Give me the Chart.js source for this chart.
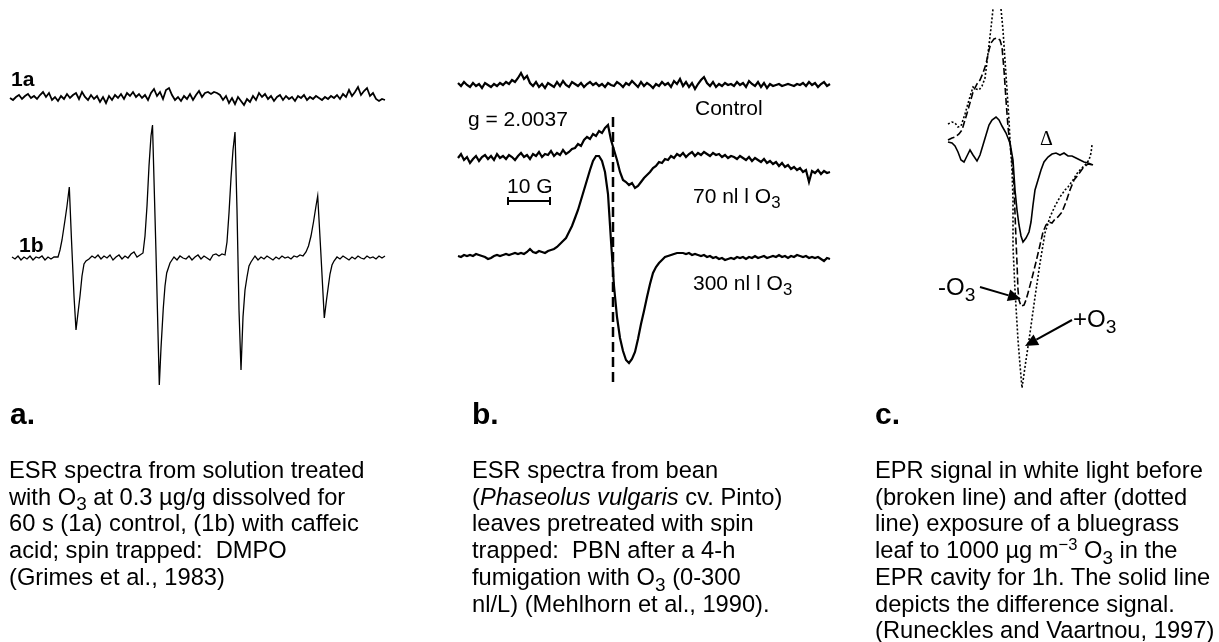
<!DOCTYPE html>
<html>
<head>
<meta charset="utf-8">
<script src="https://cdn.jsdelivr.net/npm/chart.js@4.4.1/dist/chart.umd.min.js"></script>
<style>
  html, body { margin:0; padding:0; background:#fff; }
  #wrap { position:relative; width:1219px; height:642px; overflow:hidden; background:#fff; }
  canvas { position:absolute; left:0; top:0; }
  .t { position:absolute; font-family:"Liberation Sans", Arial, Helvetica, sans-serif; color:#000; white-space:nowrap; line-height:1; }
  .lbl { font-size:21px; }
  .bold { font-weight:bold; }
  .panel { font-size:30px; font-weight:bold; }
  .para { font-size:23.7px; line-height:26.7px; }
  sub { font-size:0.8em; vertical-align:baseline; position:relative; top:0.3em; line-height:0; }
  sup { font-size:0.7em; vertical-align:baseline; position:relative; top:-0.5em; line-height:0; }
</style>
</head>
<body>
<div id="wrap">
  <canvas id="c" width="1219" height="642"></canvas>

  <div class="t lbl bold" style="left:11px; top:68px;">1a</div>
  <div class="t lbl bold" style="left:19px; top:234px;">1b</div>

  <div class="t lbl" style="left:695px; top:97px;">Control</div>
  <div class="t lbl" style="left:468px; top:108px;">g = 2.0037</div>
  <div class="t lbl" style="left:507px; top:175px;">10 G</div>
  <div class="t lbl" style="left:693px; top:185px;">70 nl l O<sub>3</sub></div>
  <div class="t lbl" style="left:693px; top:272px;">300 nl l O<sub>3</sub></div>

  <div class="t" style="left:1040px; top:128px; font-size:20px; font-family:'Liberation Serif','Times New Roman',serif;">&Delta;</div>
  <div class="t" style="left:938px; top:275px; font-size:24px;">-O<sub>3</sub></div>
  <div class="t" style="left:1073px; top:307px; font-size:24px;">+O<sub>3</sub></div>

  <div class="t panel" style="left:10px; top:399px;">a.</div>
  <div class="t panel" style="left:472px; top:399px;">b.</div>
  <div class="t panel" style="left:875px; top:399px;">c.</div>

  <div class="t para" style="left:9px; top:457px;">ESR spectra from solution treated<br>with O<sub>3</sub> at 0.3 µg/g dissolved for<br>60 s (1a) control, (1b) with caffeic<br>acid; spin trapped:&nbsp; DMPO<br>(Grimes et al., 1983)</div>
  <div class="t para" style="left:472px; top:457px;">ESR spectra from bean<br>(<i>Phaseolus vulgaris</i> cv. Pinto)<br>leaves pretreated with spin<br>trapped:&nbsp; PBN after a 4-h<br>fumigation with O<sub>3</sub> (0-300<br>nl/L) (Mehlhorn et al., 1990).</div>
  <div class="t para" style="left:875px; top:457px;">EPR signal in white light before<br>(broken line) and after (dotted<br>line) exposure of a bluegrass<br>leaf to 1000 µg m<sup>−3</sup> O<sub>3</sub> in the<br>EPR cavity for 1h. The solid line<br>depicts the difference signal.<br>(Runeckles and Vaartnou, 1997)</div>
</div>

<script>
// ---------------- DATA (field position from trace start, signal amplitude, positive = up) ----------------

// Panel a: trace 1a (control), sampled every 3 field units
const a1aSignal = [0,-2,1,3,-1,2,4,0,2,-1, 3,6,1,5,-2,1,-3,2,-1,4, 0,3,5,-1,6,1,-2,3,-1,2,
  -4,1,-5,2,-2,3,0,4,-1,5, 2,6,1,4,0,3,-2,5,9,2, 6,-1,8,10,3,-2,1,-3,2,-1, 4,-2,3,7,1,5,6,4,6,5,
  3,-2,2,-5,0,-6,1,-3,-7,-1, -4,2,-2,5,1,4,-1,2,-3,1, 3,-2,2,-1,1,-3,2,0,3,-2, 1,-1,2,0,-2,1,-1,2,0,3,
  -1,4,1,8,2,6,11,3,7,10, 2,5,-1,-3,-1,-2];

// Panel a: trace 1b (with caffeic acid)
const a1bField = [2,5,8,11,14,17,20,23,26,29,32,35,38,41,44,48,
  50,52,55,57,59.3,61.5,64,66,68,70,72,74,76,
  79,82,85,88,91,94,97,100,103,106,109,112,115,118,121,124,127,130,
  133,135,137,139,141,142.5,146,149.3,151,153.3,155,156.7,160,
  164,167,170,173,176,179,182,185,188,191,194,197,200,203,206,209,212,
  215,217,219,221,223,225,227,229,231,233,235,237,239,241,
  245,248,251,254,257,260,263,266,269,272,275,278,281,284,287,290,
  293,296,298.5,301,303.5,306,307.7,310.7,314.3,316.5,318.5,320,322,324,
  327,330,333,336,339,342,345,348,351,354,357,360,363,366,369,372,375];
const a1bSignal = [1,-1,2,-2,1,-1,2,-2,1,0,2,-2,1,-1,1,1,
  8,18,38,52,71,18,-38,-72,-55,-38,-18,-6,-3,
  -1,2,0,3,-1,2,0,3,-2,1,3,-1,2,0,4,6,1,3,
  5,22,52,92,122,133,5,-127,-90,-50,-28,-15,-5,
  1,-2,2,0,-1,2,-2,1,3,-1,2,0,-2,3,4,2,4,
  3,16,45,80,108,126,48,-52,-112,-59,-32,-19,-8,-4,
  2,-2,1,-1,2,0,-2,1,-1,2,0,1,-1,2,1,3,
  2,6,12,22,36,52,62,8,-60,-42,-27,-16,-7,-3,
  1,-1,2,0,-2,1,-1,2,0,-1,2,0,1,-1,2,0,2];

// Panel b: spectra sampled every 3 field units (10 G = 42 units)
const bControl = [2,-1,3,0,-2,2,-1,1,-3,2, 0,-2,1,-1,2,0,3,1,5,3, 7,12,6,9,2,-1,3,-2,1,-3,
  2,0,-2,3,-1,4,0,-2,3,1, -1,2,-2,1,3,0,2,-1,1,-2, 2,0,-1,3,1,-2,2,0,4,1,
  -2,3,-1,2,0,-3,1,-1,3,0, 2,-2,4,1,6,-1,3,-2,2,-4, 1,5,8,2,-1,3,-2,1,-1,2,
  0,1,-1,3,0,2,-2,4,1,-1, 3,-2,2,-3,1,-1,0,1,-1,0, 1,0,-1,1,0,2,-1,3,0,2, -2,1,3,-1,1];
const b70nl = [0,4,-2,1,-5,-1,2,-3,1,3, -1,2,-2,4,0,2,-1,3,1,-2, 2,5,1,3,-1,4,2,6,1,4,
  3,7,2,5,3,8,4,6,9,10, 14,12,18,21,19,24,22,27,25,30, 33,18,8,-2,-14,-22,-24,-27,-25,-30,
  -28,-24,-20,-17,-14,-10,-8,-4,-5,-1, -2,2,0,4,2,5,1,4,6,2, 5,3,6,4,2,5,3,4,1,3,
  0,2,1,-1,2,0,-2,1,-3,0, -2,-4,-1,-5,-3,-6,-4,-8,-5,-9, -7,-11,-9,-12,-10,-14,-12,-24,-13,-15, -12,-16,-13,-15,-14];
const b300nl = [0,-1,1,0,1,0,2,1,0,-1, -3,-2,0,1,0,1,2,1,2,3, 2,3,2,4,7,4,3,5,4,3,
  5,6,7,9,12,15,18,24,30,38, 46,56,66,76,86,95,100,100,95,84, 62,15,-30,-61,-82,-95,-104,-107,-103,-96,
  -83,-68,-55,-41,-28,-17,-11,-7,-4,-1, 0,1,2,3,3,3,2,3,1,2, 1,0,1,-1,0,-2,-1,-3,-2,-4,
  -3,-2,-3,-1,-2,-1,-3,-1,-2,0, -2,-1,0,-2,-1,0,-1,1,-1,0, -2,0,-1,1,0,-1,0,-2,-1,-2, -1,-3,-5,-2,-3];
const gMarker = 155;            // field position of g = 2.0037 (panel b)
const scaleBarG = [50, 92];     // 10 G scale bar, field units

// Panel c: EPR signals (field position, amplitude)
const cAfterField  = [0,4,7,10,13,17,21,25,28,31,34,37,39,41,43,45,49,53,55,57,59,61,62,64,65,65,67,70,72,74,77,82,87,92,97,102,107,112,117,120,125,130,137,141,143,144];
const cAfterSignal = [56,58,57,53,54,66,80,93,91,90,94,102,118,135,152,171,null,171,150,120,90,60,40,10,-20,-67,-110,-160,-185,-208,-187,-153,-117,-83,-53,-37,-26,-17,-10,-7,0,8,15,20,27,35];
const cBeforeField  = [0,4,7,11,14,17,20,25,29,32,35,38,41,43,46,49,52,54,56,58,60,62,64,66,67,68,69,70,71,73,76,78,80,84,88,92,95,98,101,104,107,110,114,118,122,126,130,135,140,145];
const cBeforeSignal = [40,42,43,46,50,60,70,88,96,100,107,116,130,137,141,142,140,133,110,80,53,35,20,-5,-33,-60,-83,-110,-120,-126,-125,-120,-113,-98,-82,-65,-52,-45,-42,-43,-39,-37,-32,-22,-10,0,5,12,16,15];
const cDiffField  = [0,4,7,10,13,16,19,22,25,29,32,35,38,41,44,48,51,54,58,62,65,67,69,71,73,75,78,81,83,85,87,90,93,96,100,104,108,112,116,120,124,128,132,136,140,145];
const cDiffSignal = [38,37,34,28,20,18,24,30,25,19,25,35,45,55,60,63,60,54,47,37,20,-10,-30,-45,-56,-62,-58,-52,-42,-25,-10,0,10,18,23,26,27,25,27,24,24,22,20,18,17,15];

// ---------------- LAYOUT (where each trace sits on the page) ----------------
const layout = {
  a1a: { x0: 10, base: 98, step: 3 },
  a1b: { x0: 10, base: 258 },
  bCtl: { x0: 458, base: 85, step: 3 },
  b70: { x0: 458, base: 158, step: 3 },
  b300: { x0: 458, base: 256, step: 3 },
  bDash: { x0: 458, y1: 117, y2: 383 },
  bBar: { x0: 458, y: 201, tick: 4 },
  c: { x0: 948, base: 180 }
};
const arrows = [
  { from: [980, 287], to: [1021, 299] },
  { from: [1072, 320], to: [1025, 346] }
];

function uniform(sig, L) { return sig.map((v, i) => ({ x: L.x0 + i * L.step, y: L.base - v })); }
function paired(fx, sig, L) { return fx.map((f, i) => ({ x: L.x0 + f, y: sig[i] === null ? null : L.base - sig[i] })); }

const black = '#000';
const datasets = [
  { data: uniform(a1aSignal, layout.a1a), borderWidth: 1.8 },
  { data: paired(a1bField, a1bSignal, layout.a1b), borderWidth: 1.3 },
  { data: uniform(bControl, layout.bCtl), borderWidth: 2.2 },
  { data: uniform(b70nl, layout.b70), borderWidth: 2.2 },
  { data: uniform(b300nl, layout.b300), borderWidth: 2.2 },
  { data: [{ x: layout.bDash.x0 + gMarker, y: layout.bDash.y1 }, { x: layout.bDash.x0 + gMarker, y: layout.bDash.y2 }], borderWidth: 2.5, borderDash: [10, 5] },
  { data: paired(cAfterField, cAfterSignal, layout.c), borderWidth: 1.6, borderDash: [2, 2] },
  { data: paired(cBeforeField, cBeforeSignal, layout.c), borderWidth: 1.6, borderDash: [7, 3] },
  { data: paired(cDiffField, cDiffSignal, layout.c), borderWidth: 1.6 }
].map(d => Object.assign({ borderColor: black, pointRadius: 0, tension: 0, fill: false, spanGaps: false, borderCapStyle: 'butt' }, d));

const annot = {
  id: 'annot',
  afterDatasetsDraw(chart) {
    const { ctx, scales: { x, y } } = chart;
    ctx.save();
    ctx.strokeStyle = black; ctx.fillStyle = black;
    // 10 G scale bar
    const bx1 = x.getPixelForValue(layout.bBar.x0 + scaleBarG[0]);
    const bx2 = x.getPixelForValue(layout.bBar.x0 + scaleBarG[1]);
    const by = y.getPixelForValue(layout.bBar.y);
    const t = layout.bBar.tick;
    ctx.lineWidth = 2;
    ctx.beginPath();
    ctx.moveTo(bx1, by); ctx.lineTo(bx2, by);
    ctx.moveTo(bx1, by - t); ctx.lineTo(bx1, by + t);
    ctx.moveTo(bx2, by - t); ctx.lineTo(bx2, by + t);
    ctx.stroke();
    // arrows
    arrows.forEach(a => {
      const x1 = x.getPixelForValue(a.from[0]), y1 = y.getPixelForValue(a.from[1]);
      const x2 = x.getPixelForValue(a.to[0]), y2 = y.getPixelForValue(a.to[1]);
      const ang = Math.atan2(y2 - y1, x2 - x1);
      const hl = 13, hw = 6;
      const bxp = x2 - hl * Math.cos(ang), byp = y2 - hl * Math.sin(ang);
      ctx.lineWidth = 2;
      ctx.beginPath(); ctx.moveTo(x1, y1); ctx.lineTo(bxp, byp); ctx.stroke();
      ctx.beginPath();
      ctx.moveTo(x2, y2);
      ctx.lineTo(bxp + hw * Math.sin(ang), byp - hw * Math.cos(ang));
      ctx.lineTo(bxp - hw * Math.sin(ang), byp + hw * Math.cos(ang));
      ctx.closePath(); ctx.fill();
    });
    ctx.restore();
  }
};

new Chart(document.getElementById('c'), {
  type: 'line',
  data: { datasets },
  options: {
    responsive: false,
    animation: false,
    layout: { padding: 0 },
    plugins: { legend: { display: false }, tooltip: { enabled: false } },
    scales: {
      x: { type: 'linear', min: 0, max: 1219, display: false },
      y: { type: 'linear', min: 0, max: 642, reverse: true, display: false }
    }
  },
  plugins: [annot]
});
</script>
</body>
</html>
